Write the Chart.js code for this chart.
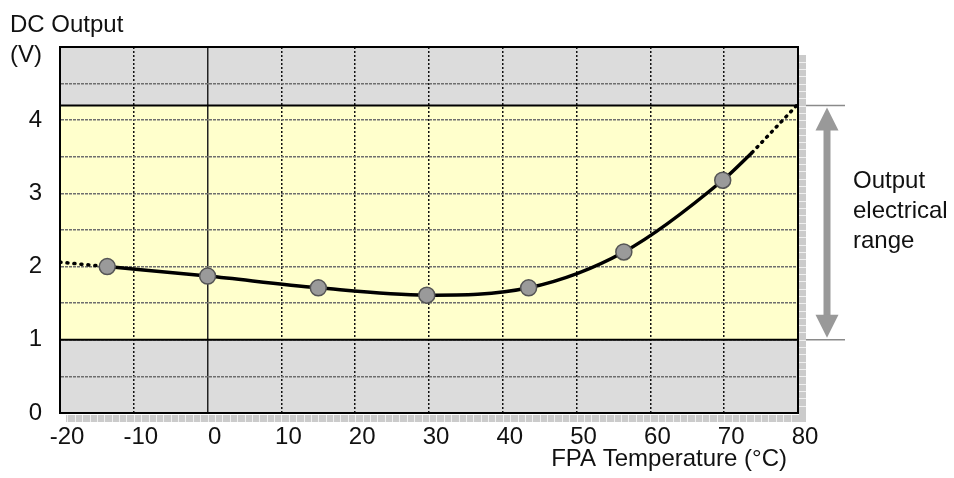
<!DOCTYPE html>
<html>
<head>
<meta charset="utf-8">
<script src="https://cdn.jsdelivr.net/npm/chart.js@4.4.1/dist/chart.umd.min.js"></script>
<style>
  html, body { margin: 0; padding: 0; background: #fff; }
  #wrap { width: 954px; height: 478px; }
</style>
</head>
<body>
<div id="wrap"><canvas id="dcChart"></canvas></div>
<script>
// tick labels
var xTicks = [-20, -10, 0, 10, 20, 30, 40, 50, 60, 70, 80];
var yTicks = [0, 1, 2, 3, 4];

// measured points (FPA temperature in C, DC output in V)
var tempC = [-13.6, 0, 15, 29.7, 43.5, 56.4, 69.8];
var dcOut = [2.0, 1.87, 1.71, 1.61, 1.71, 2.2, 3.18];

// end of the solid curve and the dotted extrapolations
var solidEndX = [73.8];
var solidEndY = [3.56];
var extLeftX = [-20, -13.6];
var extLeftY = [2.06, 2.0];
var extRightX = [73.8, 80];
var extRightY = [3.56, 4.22];

// output electrical range
var rangeLow = 1;
var rangeHigh = 4.2;

function toPoints(xs, ys) {
    return xs.map(function (x, i) { return { x: x, y: ys[i] }; });
}

var fontFamily = '"Liberation Sans", Arial, sans-serif';
Chart.defaults.font.family = fontFamily;
Chart.defaults.font.size = 24;
Chart.defaults.color = '#111';

// Draw the grey / yellow bands, frame, minor tick strips and the range arrow
var decorPlugin = {
    id: 'decor',
    beforeDraw: function (chart) {
        var ctx = chart.ctx, a = chart.chartArea, y = chart.scales.y;
        var yLo = y.getPixelForValue(rangeLow), yHi = y.getPixelForValue(rangeHigh);
        ctx.save();
        ctx.fillStyle = '#dcdcdc';
        ctx.fillRect(a.left, a.top, a.right - a.left, a.bottom - a.top);
        ctx.fillStyle = '#ffffcc';
        ctx.fillRect(a.left, yHi, a.right - a.left, yLo - yHi);
        ctx.restore();
    },
    beforeDatasetsDraw: function (chart) {
        var ctx = chart.ctx, a = chart.chartArea, x = chart.scales.x, y = chart.scales.y;
        var yLo = y.getPixelForValue(rangeLow), yHi = y.getPixelForValue(rangeHigh);
        var v;
        ctx.save();
        // minor tick strips (bottom: every 1 C, right: every 0.1 V)
        ctx.fillStyle = '#cbcbcb';
        ctx.fillRect(a.left + 6, a.bottom + 2, a.right - a.left + 2, 7);
        ctx.fillRect(a.right + 1, a.top + 8, 7, a.bottom - a.top + 1);
        ctx.strokeStyle = '#efefef';
        ctx.lineWidth = 1;
        ctx.beginPath();
        for (v = -19; v < 80; v++) {
            var px = Math.round(x.getPixelForValue(v)) + 0.5;
            ctx.moveTo(px, a.bottom + 2);
            ctx.lineTo(px, a.bottom + 9);
        }
        for (v = 1; v < 50; v++) {
            var py = Math.round(y.getPixelForValue(v / 10)) + 0.5;
            if (py < a.top + 8) continue;
            ctx.moveTo(a.right + 1, py);
            ctx.lineTo(a.right + 8, py);
        }
        ctx.stroke();
        // range edges
        ctx.strokeStyle = '#000';
        ctx.lineWidth = 2;
        ctx.beginPath();
        ctx.moveTo(a.left, yHi); ctx.lineTo(a.right, yHi);
        ctx.moveTo(a.left, yLo); ctx.lineTo(a.right, yLo);
        ctx.stroke();
        ctx.strokeStyle = '#8a8a8a';
        ctx.lineWidth = 1.5;
        ctx.beginPath();
        ctx.moveTo(a.right + 8, yHi); ctx.lineTo(a.right + 47, yHi);
        ctx.moveTo(a.right + 8, yLo); ctx.lineTo(a.right + 47, yLo);
        ctx.stroke();
        // frame
        ctx.strokeStyle = '#000';
        ctx.lineWidth = 2;
        ctx.strokeRect(a.left, a.top, a.right - a.left, a.bottom - a.top);
        ctx.restore();
    },
    afterDraw: function (chart) {
        var ctx = chart.ctx, a = chart.chartArea, y = chart.scales.y;
        var yLo = y.getPixelForValue(rangeLow), yHi = y.getPixelForValue(rangeHigh);
        var ax = a.right + 29;
        ctx.save();
        // double arrow
        ctx.fillStyle = '#999';
        ctx.fillRect(ax - 3.5, yHi + 20, 7, yLo - yHi - 40);
        ctx.beginPath();
        ctx.moveTo(ax, yHi + 2); ctx.lineTo(ax + 11.5, yHi + 25); ctx.lineTo(ax - 11.5, yHi + 25);
        ctx.closePath();
        ctx.moveTo(ax, yLo - 2); ctx.lineTo(ax + 11.5, yLo - 25); ctx.lineTo(ax - 11.5, yLo - 25);
        ctx.closePath();
        ctx.fill();
        // texts
        ctx.fillStyle = '#111';
        ctx.font = '24px ' + fontFamily;
        ctx.textBaseline = 'alphabetic';
        ctx.textAlign = 'left';
        ctx.fillText('Output', 853, 188);
        ctx.fillText('electrical', 853, 218);
        ctx.fillText('range', 853, 248);
        ctx.fillText('DC Output', 10, 32);
        ctx.fillText('(V)', 10, 62);
        ctx.textAlign = 'right';
        ctx.fillText('FPA Temperature (\u00B0C)', 787, 466);
        ctx.restore();
    }
};

var ctx = document.getElementById('dcChart').getContext('2d');
var dcChart = new Chart(ctx, {
    type: 'scatter',
    data: {
        datasets: [{
            // markers on top
            data: toPoints(tempC, dcOut),
            showLine: false,
            pointRadius: 8,
            pointBackgroundColor: '#9a9a9a',
            pointBorderColor: '#555',
            pointBorderWidth: 1.5
        }, {
            data: toPoints(tempC.concat(solidEndX), dcOut.concat(solidEndY)),
            showLine: true,
            borderColor: '#000',
            borderWidth: 3.5,
            pointRadius: 0,
            cubicInterpolationMode: 'monotone'
        }, {
            data: toPoints(extLeftX, extLeftY),
            showLine: true,
            borderColor: '#000',
            borderWidth: 3.5,
            borderDash: [1, 6],
            borderCapStyle: 'round',
            pointRadius: 0
        }, {
            data: toPoints(extRightX, extRightY),
            showLine: true,
            borderColor: '#000',
            borderWidth: 3.5,
            borderDash: [1, 6],
            borderCapStyle: 'round',
            pointRadius: 0
        }]
    },
    options: {
        responsive: true,
        maintainAspectRatio: false,
        animation: false,
        layout: { padding: { top: 47, right: 156, left: 0, bottom: 0 } },
        scales: {
            x: {
                type: 'linear',
                min: -20,
                max: 80,
                afterBuildTicks: function (scale) {
                    scale.ticks = xTicks.map(function (v) { return { value: v }; });
                },
                afterFit: function (scale) { scale.height = 65; },
                ticks: { padding: 10, labelOffset: 7, color: '#111' },
                grid: {
                    drawTicks: false,
                    color: function (c) { return c.tick && c.tick.value === 0 ? '#222' : '#111'; },
                    lineWidth: 1.5
                },
                border: {
                    display: true,
                    color: '#000',
                    width: 2,
                    dash: function (c) { return c.tick && c.tick.value === 0 ? [] : [2, 2]; }
                }
            },
            y: {
                type: 'linear',
                min: 0,
                max: 5,
                ticks: {
                    stepSize: 0.5,
                    padding: 18,
                    color: '#111',
                    callback: function (value) {
                        return yTicks.indexOf(value) >= 0 ? String(value) : '';
                    }
                },
                afterFit: function (scale) { scale.width = 60; },
                grid: { drawTicks: false, color: '#6e6e6e', lineWidth: 1.5 },
                border: { display: true, color: '#000', width: 2, dash: [3, 1] }
            }
        },
        plugins: {
            legend: { display: false },
            tooltip: { enabled: false }
        }
    },
    plugins: [decorPlugin]
});
</script>
</body>
</html>
